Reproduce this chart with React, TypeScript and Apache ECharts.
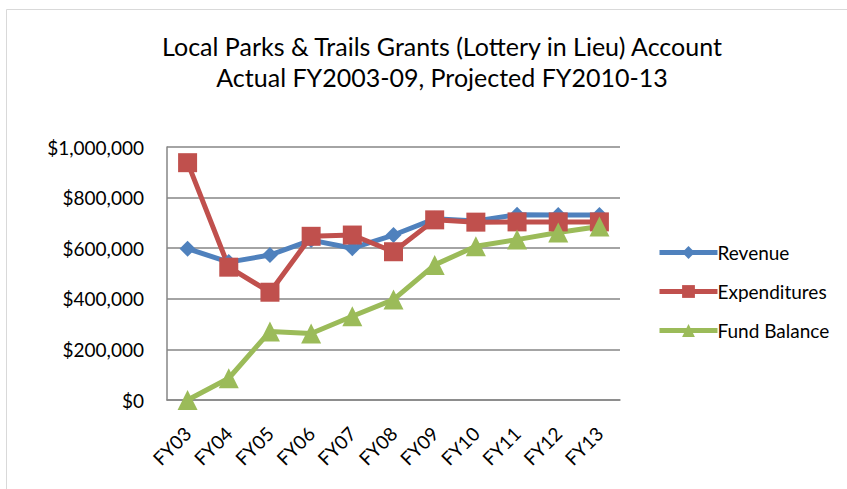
import React, { useEffect, useRef } from "react";
import * as echarts from "echarts";

const categories = ["FY03", "FY04", "FY05", "FY06", "FY07", "FY08", "FY09", "FY10", "FY11", "FY12", "FY13"];
const revenue = [598000, 545000, 573000, 632000, 600000, 652000, 716000, 708000, 732000, 731000, 731000];
const expenditures = [938000, 525000, 426000, 647000, 652000, 586000, 712000, 703000, 704000, 704000, 704000];
const fundBalance = [0, 86000, 271000, 263000, 331000, 397000, 534000, 608000, 634000, 662000, 686000];
const titleLines = ["Local Parks & Trails Grants (Lottery in Lieu) Account", "Actual FY2003-09, Projected FY2010-13"];

const FONT = "Lato, 'Open Sans', sans-serif";

export default function App() {
  const ref = useRef<HTMLDivElement>(null);
  useEffect(() => {
    if (!ref.current) return;
    const chart = echarts.init(ref.current, undefined, { renderer: "svg" });
    chart.setOption({
      animation: false,
      backgroundColor: "#ffffff",
      textStyle: { fontFamily: FONT },
      title: {
        text: titleLines.join("\n"),
        left: 437,
        textAlign: "center",
        top: 25,
        textStyle: { fontFamily: FONT, fontSize: 25, fontWeight: "normal", color: "#000", lineHeight: 31 },
      },
      graphic: [
        {
          type: "rect",
          shape: { x: 6.5, y: 9.5, width: 900, height: 600 },
          style: { fill: "none", stroke: "#d9d9d9", lineWidth: 1 },
          silent: true,
        },
      ],
      legend: {
        orient: "vertical",
        left: 652,
        top: 236,
        itemGap: 16,
        itemWidth: 58,
        itemHeight: 16,
        lineStyle: { width: 5 },
        textStyle: { fontFamily: FONT, fontSize: 19, color: "#000", padding: [0, 0, 0, -5], lineHeight: 23 },
        data: ["Revenue", "Expenditures", "Fund Balance"],
      },
      grid: { left: 167, right: 227, top: 147, bottom: 89 },
      xAxis: {
        type: "category",
        data: categories,
        boundaryGap: true,
        axisLine: { lineStyle: { color: "#868686", width: 1.5 } },
        axisTick: { show: false },
        axisLabel: { rotate: 45, fontSize: 19, color: "#000", fontFamily: FONT, margin: 30 },
      },
      yAxis: {
        type: "value",
        min: 0,
        max: 1000000,
        interval: 200000,
        axisLine: { show: true, lineStyle: { color: "#868686", width: 1.5 } },
        axisTick: { show: false },
        splitLine: { lineStyle: { color: "#868686", width: 1.5 } },
        axisLabel: {
          fontSize: 19,
          color: "#000",
          fontFamily: FONT,
          margin: 23,
          formatter: (v: number) => "$" + v.toLocaleString("en-US"),
        },
      },
      series: [
        {
          name: "Revenue",
          type: "line",
          data: revenue,
          symbol: "diamond",
          symbolSize: 16,
          color: "#4F81BD",
          lineStyle: { width: 5, color: "#4F81BD" },
          itemStyle: { color: "#4F81BD" },
        },
        {
          name: "Expenditures",
          type: "line",
          data: expenditures,
          symbol: "rect",
          symbolSize: 19,
          color: "#C0504D",
          lineStyle: { width: 5, color: "#C0504D" },
          itemStyle: { color: "#C0504D" },
        },
        {
          name: "Fund Balance",
          type: "line",
          data: fundBalance,
          symbol: "triangle",
          symbolSize: 20,
          color: "#9BBB59",
          lineStyle: { width: 5, color: "#9BBB59" },
          itemStyle: { color: "#9BBB59" },
        },
      ],
    });
    return () => chart.dispose();
  }, []);
  return <div ref={ref} style={{ position: "fixed", left: 0, top: 0, width: 847, height: 489 }} />;
}
